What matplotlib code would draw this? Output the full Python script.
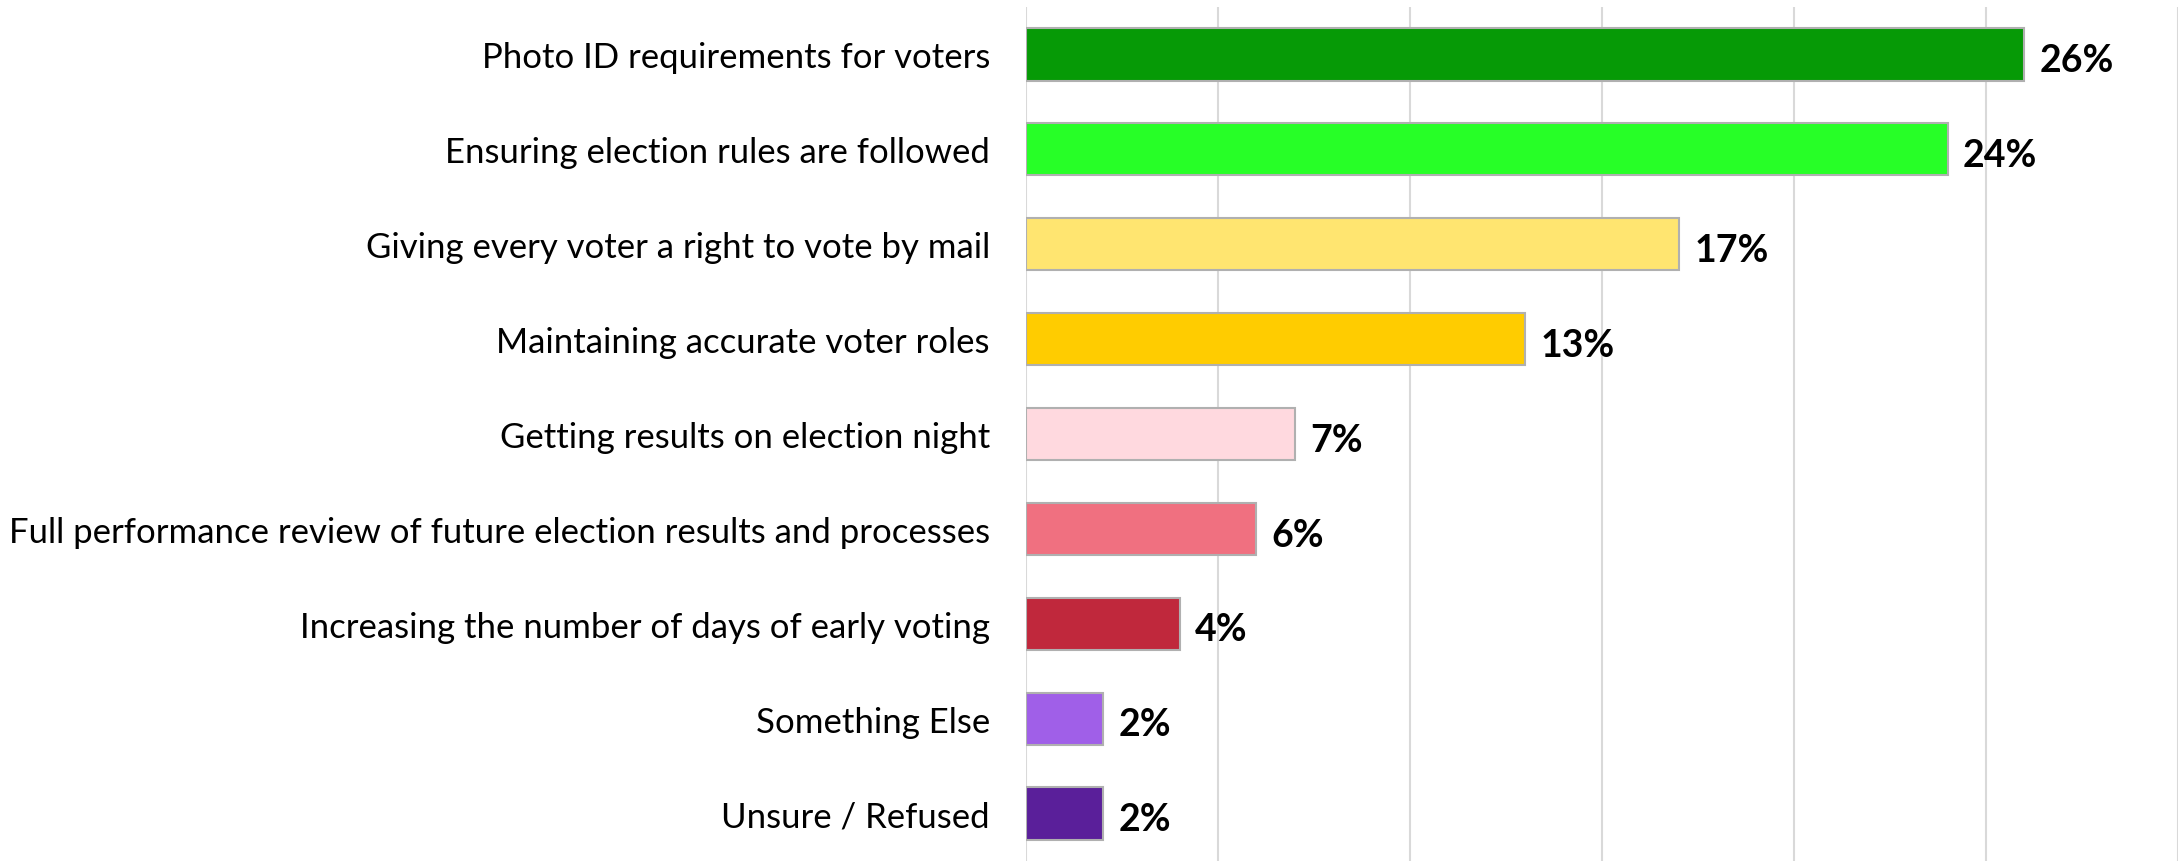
import numpy as np
import matplotlib
matplotlib.use("Agg")
from matplotlib import pyplot as plt

# Data
labels = [
    "Photo ID requirements for voters",
    "Ensuring election rules are followed",
    "Giving every voter a right to vote by mail",
    "Maintaining accurate voter roles",
    "Getting results on election night",
    "Full performance review of future election results and processes",
    "Increasing the number of days of early voting",
    "Something Else",
    "Unsure / Refused",
]
values = [26, 24, 17, 13, 7, 6, 4, 2, 2]
colors = ["#069A06", "#27FF27", "#FFE570", "#FFCC00", "#FFD9DF",
          "#F07080", "#C0283C", "#A05FE8", "#5A1F9A"]

plt.rcParams['font.family'] = ['Lato', 'DejaVu Sans']

fig = plt.figure(figsize=(21.78, 8.62), dpi=100)
ax = fig.add_axes([1026 / 2178, 0, 1 - 1026 / 2178, 1 - 8 / 862])

y = np.arange(len(labels))
ax.barh(y, values, height=0.55, color=colors, edgecolor="#B0B0B0", linewidth=1.5, zorder=3)

for yi, v in zip(y, values):
    ax.text(v + 0.4, yi + 0.06, f"{v}%", va="center", ha="left", fontsize=27,
            fontweight="bold", color="black")

ax.set_xlim(0, 30)
ax.set_ylim(len(labels) - 0.5, -0.5)
ax.set_xticks(np.arange(0, 31, 5))
ax.set_xticklabels([])
ax.set_yticks(y)
ax.set_yticklabels(labels, fontsize=25)
ax.tick_params(axis="both", length=0)
ax.tick_params(axis="y", pad=26)
ax.grid(axis="x", color="#D9D9D9", linewidth=1.5, zorder=0)
for s in ax.spines.values():
    s.set_visible(False)

fig.savefig("out.png", dpi=100)
